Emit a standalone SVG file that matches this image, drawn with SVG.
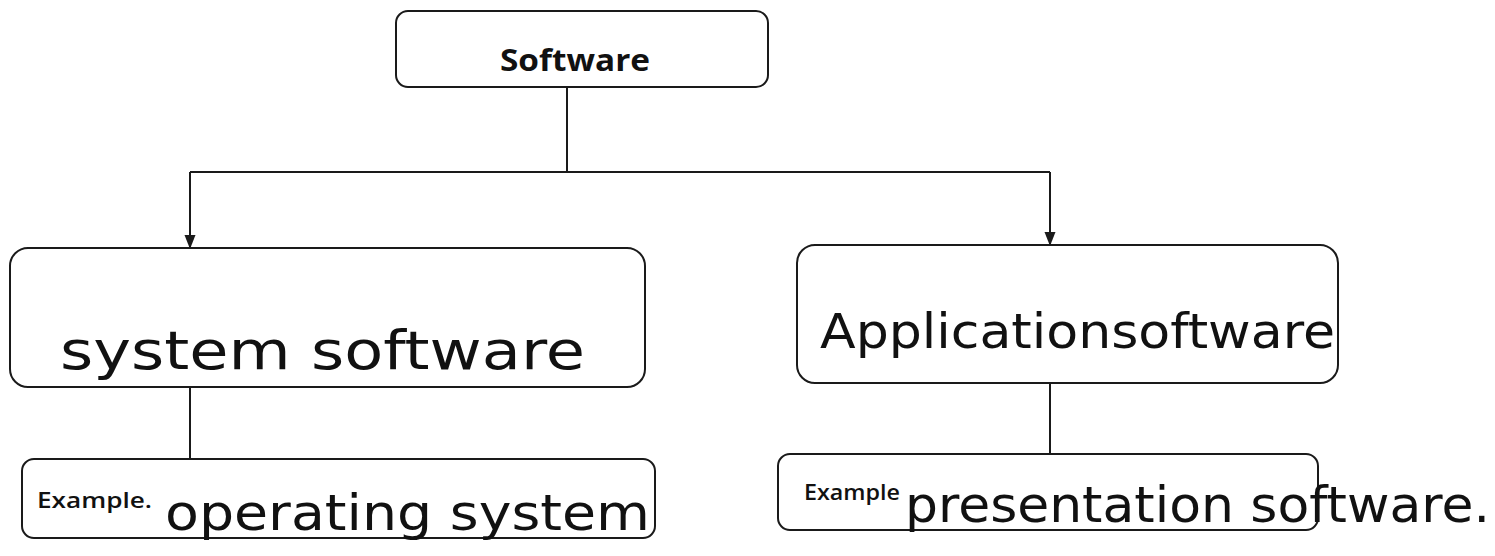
<svg xmlns="http://www.w3.org/2000/svg" width="1495" height="556" viewBox="0 0 1495 556">
<defs>
<style>
.box{fill:#fff;stroke:#1a1a1a;stroke-width:2}
.ln{stroke:#1a1a1a;stroke-width:2;fill:none}
.title{font-family:"Open Sans","Noto Sans",sans-serif;font-weight:bold;font-size:31px;fill:#111}
.ex{font-family:"Open Sans","Noto Sans",sans-serif;font-weight:600;font-size:21px;fill:#111}
.hand{font-family:"DejaVu Sans","Liberation Sans",sans-serif;font-weight:normal;fill:#111}
</style>
<marker id="ah" viewBox="0 0 14 12" refX="13" refY="6" markerWidth="14" markerHeight="12" orient="auto" markerUnits="userSpaceOnUse">
<path d="M0,0.5 L14,6 L0,11.5 Z" fill="#1a1a1a"/>
</marker>
</defs>
<rect width="1495" height="556" fill="#fff"/>
<g id="connectors">
<path class="ln" d="M567,87 V172"/>
<path class="ln" d="M190,172 H1050"/>
<path class="ln" d="M190,172 V248" marker-end="url(#ah)"/>
<path class="ln" d="M1050,172 V245" marker-end="url(#ah)"/>
<path class="ln" d="M190,387 V459"/>
<path class="ln" d="M1050,383 V454"/>
</g>
<g id="software">
<rect class="box" x="396" y="11" width="372" height="76" rx="12"/>
<text class="title" x="575" y="71" text-anchor="middle" textLength="150" lengthAdjust="spacingAndGlyphs">Software</text>
</g>
<g id="system-software">
<rect class="box" x="10" y="248" width="635" height="139" rx="18"/>
<text class="hand" x="60" y="369" font-size="54" textLength="525" lengthAdjust="spacingAndGlyphs">system software</text>
</g>
<g id="application-software">
<rect class="box" x="797" y="245" width="541" height="138" rx="18"/>
<text class="hand" x="820" y="348" font-size="48" textLength="515" lengthAdjust="spacingAndGlyphs">Applicationsoftware</text>
</g>
<g id="example-system">
<rect class="box" x="22" y="459" width="633" height="79" rx="12"/>
<text class="ex" x="37" y="508" textLength="115" lengthAdjust="spacingAndGlyphs">Example.</text>
<text class="hand" x="165" y="530" font-size="50" textLength="485" lengthAdjust="spacingAndGlyphs">operating system</text>
</g>
<g id="example-application">
<rect class="box" x="778" y="454" width="540" height="76" rx="12"/>
<text class="ex" x="804" y="500" textLength="96" lengthAdjust="spacingAndGlyphs">Example</text>
<text class="hand" x="905" y="522" font-size="50" textLength="585" lengthAdjust="spacingAndGlyphs">presentation software.</text>
</g>
</svg>
